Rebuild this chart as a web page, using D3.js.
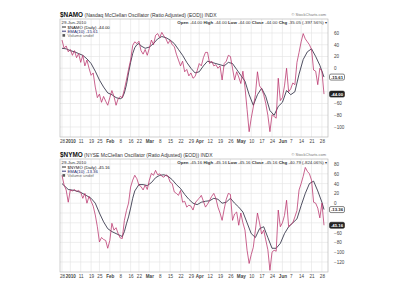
<!DOCTYPE html>
<html>
<head>
<meta charset="utf-8">
<script src="https://cdn.jsdelivr.net/npm/d3@7"></script>
<style>
  body { margin: 0; background: #fff; }
  svg { display: block; font-family: "Liberation Sans", Arial, sans-serif; }
</style>
</head>
<body>
<div id="chart"></div>
<script>
// trading-day index 0 = 28 Dec 2009 ... 126 = 29 Jun 2010
const tickDays = [0, 4, 9, 14, 18, 23, 28, 33, 37, 42, 47, 52, 57, 62, 66, 71, 76, 81, 86, 91, 96, 101, 106, 110, 115, 120, 125]
const tickLabels = ["28", "2010", "11", "19", "25", "Feb", "8", "16", "22", "Mar", "8", "15", "22", "29", "Apr", "12", "19", "26", "May", "10", "17", "24", "Jun", "7", "14", "21", "28"]
const boldLabels = ["2010", "Feb", "Mar", "Apr", "May", "Jun"]

// $NAMO daily
const namoDay = d3.range(0, 127)
const namoValue = [48, 34, 38, 28, 32, 22, 30, 18, 25, 10, 22, 4, 14, 0, -12, -8, -32, -50, -44, -58,
  -48, -56, -63, -50, -38, -48, -63, -52, -48, -50, -36, -20, -2, 14, 39, 45, 42, 46, 30, 24,
  32, 22, 34, 48, 40, 56, 59, 52, 61, 55, 50, 42, 48, 40, 37, 24, 14, 4, 12, -6,
  -2, -13, -8, -17, -14, -4, 8, 4, 18, 27, 27, 8, 12, 4, 6, 0, 4, -20, 8, 12,
  22, 20, 0, -20, -6, -15, -26, -5, -32, -70, -108, -85, -66, -45, -6, -30, -35, -45, -60, -80,
  -108, -79, -82, -85, -17, -55, -50, -30, 0, -40, -35, -25, -28, 10, 27, 45, 59, 50, 45, 40,
  32, -3, -5, -28, 0, -5, -44]
// $NAMO EMA
const namoEmaDay = [0, 2, 4, 6, 8, 10, 12, 14, 16, 18, 20, 22, 24, 26, 28, 29, 30, 31, 32, 33, 34, 35, 36, 37, 38, 40, 42, 44, 46, 48,
  50, 52, 54, 56, 58, 60, 62, 64, 66, 68, 70, 72, 74, 76, 78, 80, 82, 84, 86, 88, 90, 92, 94, 96, 98, 100, 102, 104, 106, 108,
  110, 112, 114, 116, 118, 120, 122, 124, 126]
const namoEmaValue = [34, 33, 30, 28, 25, 22, 16, 8, -5, -20, -32, -42, -45, -50, -52, -50, -42, -28, -8, 10, 25, 35, 40, 42, 38, 34, 36, 42, 50, 54,
  52, 48, 42, 32, 22, 10, 0, -8, -6, 4, 12, 10, 8, 6, 4, 10, 8, -2, -12, -22, -45, -63, -45, -34, -48, -72, -80, -65, -58, -38,
  -45, -40, -10, 15, 28, 33, 20, 5, -15]

// $NYMO daily
const nymoDay = d3.range(0, 127)
const nymoValue = [57, 37, 27, 2, 27, 25, 28, 24, 26, 22, 10, 20, 0, 14, 4, -6, -24, -48, -79, -70,
  -74, -76, -92, -76, -41, -55, -50, -62, -71, -72, -35, -15, 0, 33, 47, 57, 50, 37, 34, 27,
  37, 28, 47, 61, 57, 67, 58, 60, 55, 53, 58, 55, 43, 40, 23, 20, 16, 26, 2, 4,
  -8, -4, -6, -14, 0, 6, 10, 16, 4, -8, -2, 6, 14, 20, 10, -8, -20, -35, -12, 8,
  20, 18, -35, -22, -18, -45, -20, -40, -55, -96, -123, -105, -90, -55, -20, -40, -63, -55, -75, -95,
  -137, -100, -96, -98, -14, -48, -40, -25, 6, -48, -44, -40, -28, -15, 27, 40, 55, 73, 65, 60,
  47, 2, 0, -10, -30, 0, -45]
// $NYMO EMA
const nymoEmaDay = [0, 3, 6, 9, 12, 14, 16, 18, 20, 22, 24, 26, 28, 29, 30, 31, 32, 33, 34, 35, 37, 39, 41, 43, 45, 47, 49, 51, 53, 55,
  57, 59, 61, 63, 65, 67, 69, 71, 73, 75, 77, 79, 81, 83, 85, 87, 89, 91, 93, 95, 97, 99, 101, 103, 105, 107, 109, 111, 113, 115,
  117, 119, 121, 123, 125, 126]
const nymoEmaValue = [40, 28, 26, 22, 15, 10, 0, -20, -38, -52, -58, -62, -66, -68, -58, -42, -28, -10, 10, 25, 38, 38, 36, 42, 52, 57, 58, 55, 48, 38,
  30, 18, 8, 0, -3, 2, 4, 5, 10, 8, 0, 2, 10, 0, -8, -18, -40, -62, -70, -52, -48, -70, -92, -92, -82, -62, -48, -40, -32, -5,
  20, 40, 45, 25, 2, -13]

const topTicks = [60, 40, 20, 0, -20, -40, -60, -80, -100]
const botTicks = [80, 60, 40, 20, 0, -20, -40, -60, -80, -100, -120]

const width = 400
const height = 300
const svg = d3.select("#chart").append("svg")
  .attr("width", width)
  .attr("height", height)

const x = d3.scaleLinear().domain([0, 126]).range([62, 324])

const pinkColor = "#b8306a"
const darkColor = "#15152e"

function drawPanel(p) {
  const g = svg.append("g")
  const y = d3.scaleLinear().domain(p.domain).range(p.range)

  // last value boxes (positions needed to hide covered tick labels)
  const boxes = [
    { v: p.emaValue[p.emaValue.length - 1], text: p.emaLast, fill: "#fff", stroke: "#333", color: "#222" },
    { v: p.value[p.value.length - 1], text: p.last, fill: "#222", stroke: "#222", color: "#fff" }
  ]

  // grid
  g.selectAll(".vgrid").data(tickDays).enter().append("line")
    .attr("x1", d => x(d)).attr("x2", d => x(d))
    .attr("y1", p.top).attr("y2", p.bottom)
    .attr("stroke", "#e2e2e2").attr("stroke-width", 0.6)
  g.selectAll(".hgrid").data(p.ticks).enter().append("line")
    .attr("x1", 60).attr("x2", 328)
    .attr("y1", d => y(d)).attr("y2", d => y(d))
    .attr("stroke", "#e2e2e2").attr("stroke-width", 0.6)
  g.append("rect")
    .attr("x", 60).attr("y", p.top)
    .attr("width", 268).attr("height", p.bottom - p.top)
    .attr("fill", "none").attr("stroke", "#b0b0b0").attr("stroke-width", 0.6)

  // y axis on the right, labels under the boxes left out
  const shown = p.ticks.filter(t => boxes.every(b => Math.abs(y(t) - y(b.v)) > 6))
  const yAxis = d3.axisRight(y).tickValues(shown).tickSize(0).tickPadding(6)
  const ya = g.append("g").attr("transform", "translate(328,0)").call(yAxis)
  ya.select(".domain").remove()
  ya.selectAll("text").attr("font-size", 4.6).attr("fill", "#444")

  // x axis labels
  const xa = g.append("g").attr("transform", `translate(0,${p.bottom})`)
    .call(d3.axisBottom(x).tickValues(tickDays).tickSize(0).tickPadding(3)
      .tickFormat((d, i) => tickLabels[i]))
  xa.select(".domain").remove()
  xa.selectAll("text")
    .attr("font-size", 4.6).attr("fill", "#444")
    .attr("font-weight", (d, i) => boldLabels.includes(tickLabels[i]) ? "bold" : "normal")

  // lines
  const line = d3.line().x(d => x(d[0])).y(d => y(d[1]))
  g.append("path")
    .datum(d3.zip(p.emaDay, p.emaValue))
    .attr("d", line).attr("fill", "none")
    .attr("stroke", darkColor).attr("stroke-width", 0.75)
  g.append("path")
    .datum(d3.zip(p.day, p.value))
    .attr("d", line).attr("fill", "none")
    .attr("stroke", pinkColor).attr("stroke-width", 0.75)

  // title row
  const title = g.append("text").attr("x", 60).attr("y", p.top - 2.5)
    .attr("font-size", 5).attr("fill", "#333")
  title.append("tspan").attr("font-weight", "bold").attr("font-size", 6.4).attr("fill", "#111").text(p.symbol)
  title.append("tspan").text(" " + p.name)
  g.append("text").attr("x", 326).attr("y", p.top - 3)
    .attr("text-anchor", "end").attr("font-size", 4).attr("fill", "#777")
    .text("© StockCharts.com")

  // date row
  g.append("text").attr("x", 61.5).attr("y", p.top + 4.5)
    .attr("font-size", 4.4).attr("fill", "#333").text("29-Jun-2010")
  const quote = g.append("text").attr("x", 327).attr("y", p.top + 4.5)
    .attr("text-anchor", "end").attr("font-size", 4.4).attr("fill", "#333")
  p.quote.forEach(([k, v]) => {
    quote.append("tspan").attr("font-weight", "bold").text(k + " ")
    quote.append("tspan").text(v + " ")
  })
  quote.append("tspan").text("▾")

  // legend
  const lg = g.append("g").attr("transform", `translate(62,${p.top + 8})`)
  const items = [
    { label: p.symbol + " (Daily) " + p.last, color: "#111" },
    { label: "EMA(10) " + p.emaLast, color: "#22226a" },
    { label: "Volume undef", color: "#666" }
  ]
  items.forEach((it, i) => {
    if (i < 2) {
      lg.append("line").attr("x1", 0).attr("x2", 4)
        .attr("y1", i * 4.2).attr("y2", i * 4.2)
        .attr("stroke", it.color).attr("stroke-width", 0.9)
    } else {
      lg.append("rect").attr("x", 0.5).attr("y", i * 4.2 - 1.3)
        .attr("width", 2.6).attr("height", 2.6).attr("fill", "#555")
    }
    lg.append("text").attr("x", 5.5).attr("y", i * 4.2 + 1.6)
      .attr("font-size", 4.3).attr("fill", it.color).text(it.label)
  })

  boxes.forEach(b => {
    g.append("rect").attr("x", 329.5).attr("y", y(b.v) - 3)
      .attr("width", 15).attr("height", 6).attr("rx", 1.5)
      .attr("fill", b.fill).attr("stroke", b.stroke).attr("stroke-width", 0.6)
    g.append("text").attr("x", 337).attr("y", y(b.v) + 1.6)
      .attr("text-anchor", "middle").attr("font-size", 4.3).attr("font-weight", "bold")
      .attr("fill", b.color).text(b.text)
  })
}

drawPanel({
  symbol: "$NAMO", name: "(Nasdaq McClellan Oscillator (Ratio Adjusted) (EOD)) INDX",
  top: 19, bottom: 137, domain: [-100, 60], range: [127, 33], ticks: topTicks,
  day: namoDay, value: namoValue, emaDay: namoEmaDay, emaValue: namoEmaValue,
  last: "-44.00", emaLast: "-15.61",
  quote: [["Open", "-44.00"], ["High", "-44.00"], ["Low", "-44.00"], ["Close", "-44.00"], ["Chg", "-35.05 (-397.56%)"]]
})

drawPanel({
  symbol: "$NYMO", name: "(NYSE McClellan Oscillator (Ratio Adjusted) (EOD)) INDX",
  top: 159, bottom: 272, domain: [-120, 80], range: [262, 164], ticks: botTicks,
  day: nymoDay, value: nymoValue, emaDay: nymoEmaDay, emaValue: nymoEmaValue,
  last: "-45.16", emaLast: "-13.36",
  quote: [["Open", "-45.16"], ["High", "-45.16"], ["Low", "-45.16"], ["Close", "-45.16"], ["Chg", "-40.79 (-824.06%)"]]
})
</script>
</body>
</html>
